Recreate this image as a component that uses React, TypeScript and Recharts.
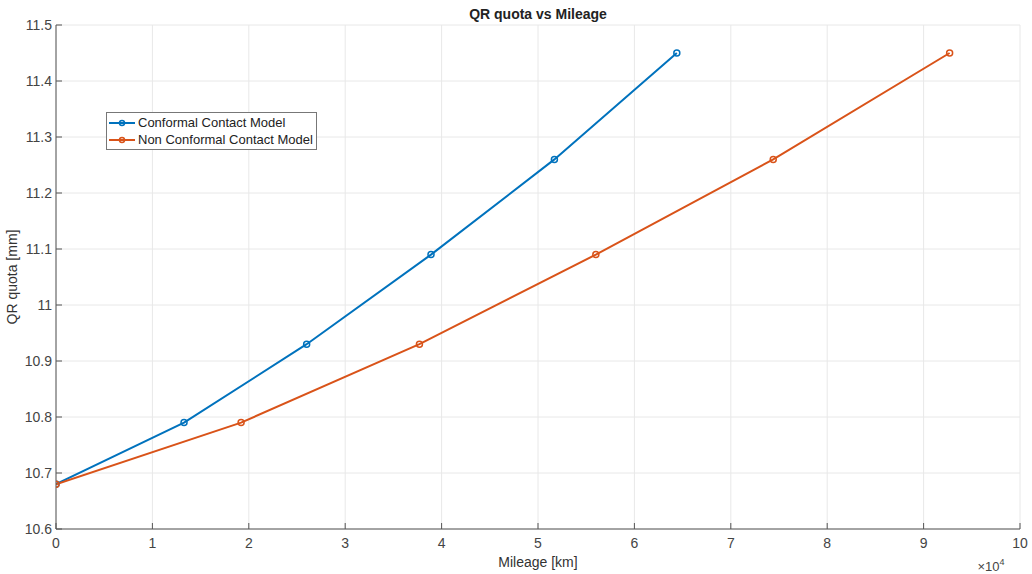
import { LineChart, Line, XAxis, YAxis, CartesianGrid } from 'recharts';

const BLUE = '#0072BD';
const ORANGE = '#D95319';
const AXIS = '#555555';
const FONT = '"Liberation Sans", Arial, Helvetica, sans-serif';

// mileage in km, quota in mm
const conformalKm = [0, 13280, 26000, 38900, 51700, 64400];
const nonConformalKm = [0, 19200, 37700, 56000, 74400, 92700];
const quotaMm = [10.68, 10.79, 10.93, 11.09, 11.26, 11.45];

const xTicks = [0, 10000, 20000, 30000, 40000, 50000, 60000, 70000, 80000, 90000, 100000];
const yTicks = [10.6, 10.7, 10.8, 10.9, 11, 11.1, 11.2, 11.3, 11.4, 11.5];

const conformal = conformalKm.map((km, i) => ({ km, quota: quotaMm[i] }));
const nonConformal = nonConformalKm.map((km, i) => ({ km, quota: quotaMm[i] }));

const tickStyle = { fontSize: 14, fill: '#444', fontFamily: FONT };

function LegendBox() {
  const rows = [
    { name: 'Conformal Contact Model', color: BLUE },
    { name: 'Non Conformal Contact Model', color: ORANGE },
  ];
  return (
    <div
      style={{
        position: 'absolute',
        left: 106,
        top: 112,
        border: '1px solid #777',
        background: '#fff',
        padding: '1px 3px 1px 1px',
        fontFamily: FONT,
        fontSize: 13,
        color: '#222',
        lineHeight: '17px',
      }}
    >
      {rows.map((r) => (
        <div key={r.name} style={{ display: 'flex', alignItems: 'center' }}>
          <svg width={28} height={10} style={{ marginRight: 2 }}>
            <line x1={1} y1={5} x2={27} y2={5} stroke={r.color} strokeWidth={2} />
            <circle cx={14} cy={5} r={2.5} fill="none" stroke={r.color} strokeWidth={1.5} />
          </svg>
          <span>{r.name}</span>
        </div>
      ))}
    </div>
  );
}

export default function App() {
  return (
    <div style={{ position: 'fixed', left: 0, top: 0, width: 1032, height: 574, background: '#fff' }}>
      <LineChart width={1032} height={574} margin={{ top: 25, right: 12, left: 0, bottom: 0 }}>
        <CartesianGrid stroke="#e8e8e8" strokeWidth={1} xAxisId="b" yAxisId="l" />
        <XAxis
          xAxisId="b"
          type="number"
          dataKey="km"
          domain={[0, 100000]}
          ticks={xTicks}
          allowDataOverflow
          tickFormatter={(v) => String(v / 10000)}
          tick={tickStyle}
          height={45}
          stroke={AXIS}
          tickSize={-6}
          tickMargin={15}
        />
        <XAxis
          xAxisId="t"
          orientation="top"
          type="number"
          dataKey="km"
          domain={[0, 100000]}
          ticks={xTicks}
          tick={false}
          height={0}
          stroke={AXIS}
          tickSize={-6}
        />
        <YAxis
          yAxisId="l"
          type="number"
          domain={[10.6, 11.5]}
          ticks={yTicks}
          allowDataOverflow
          tickFormatter={(v) => String(Number(v.toFixed(1)))}
          tick={tickStyle}
          width={56}
          stroke={AXIS}
          tickSize={-6}
          tickMargin={10}
        />
        <YAxis
          yAxisId="r"
          orientation="right"
          type="number"
          domain={[10.6, 11.5]}
          ticks={yTicks}
          tick={false}
          width={0}
          stroke={AXIS}
          tickSize={-6}
        />
        <Line
          xAxisId="b"
          yAxisId="l"
          data={conformal}
          dataKey="quota"
          name="Conformal Contact Model"
          stroke={BLUE}
          strokeWidth={2}
          dot={{ r: 3, fill: 'none', stroke: BLUE, strokeWidth: 1.5 }}
          isAnimationActive={false}
        />
        <Line
          xAxisId="b"
          yAxisId="l"
          data={nonConformal}
          dataKey="quota"
          name="Non Conformal Contact Model"
          stroke={ORANGE}
          strokeWidth={2}
          dot={{ r: 3, fill: 'none', stroke: ORANGE, strokeWidth: 1.5 }}
          isAnimationActive={false}
        />
        <text x={538} y={19} textAnchor="middle" fontFamily={FONT} fontSize={14} fontWeight="bold" fill="#222">
          QR quota vs Mileage
        </text>
        <text x={538} y={567} textAnchor="middle" fontFamily={FONT} fontSize={14} fill="#333">
          Mileage [km]
        </text>
        <text
          x={17}
          y={277}
          textAnchor="middle"
          fontFamily={FONT}
          fontSize={14}
          fill="#333"
          transform="rotate(-90 17 277)"
        >
          QR quota [mm]
        </text>
        <text x={991} y={571} textAnchor="middle" fontFamily={FONT} fontSize={13} fill="#444">
          ×10
          <tspan fontSize={9} dy={-6}>4</tspan>
        </text>
      </LineChart>
      <LegendBox />
    </div>
  );
}
